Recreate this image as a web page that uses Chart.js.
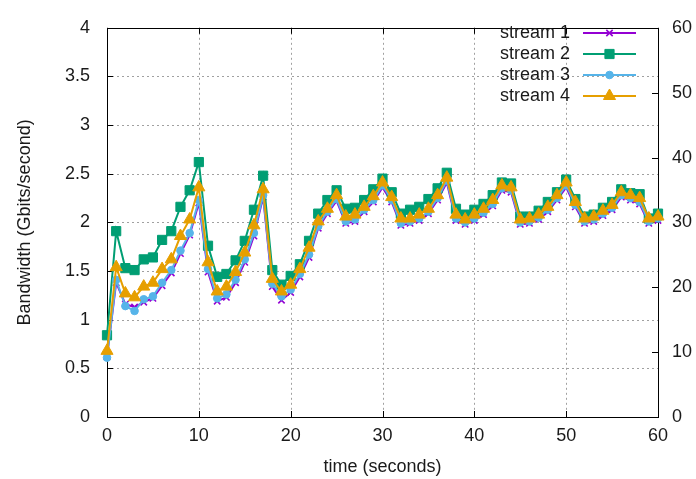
<!DOCTYPE html>
<html><head><meta charset="utf-8">
<script src="https://cdn.jsdelivr.net/npm/chart.js@4"></script>
<style>html,body{margin:0;padding:0;background:#fff}#wrap{width:696px;height:479px}</style>
</head><body><div id="wrap"><canvas id="c" width="696" height="479"></canvas></div>
<script>
const times = [0,1,2,3,4,5,6,7,8,9,10,11,12,13,14,15,16,17,18,19,20,21,22,23,24,25,26,27,28,29,30,31,32,33,34,35,36,37,38,39,40,41,42,43,44,45,46,47,48,49,50,51,52,53,54,55,56,57,58,59,60];
const stream1 = [0.62,1.38,1.16,1.13,1.18,1.22,1.35,1.48,1.68,1.87,2.20,
  1.49,1.19,1.23,1.38,1.59,1.86,2.26,1.34,1.20,1.28,
  1.44,1.64,1.94,2.09,2.22,1.99,2.01,2.11,2.21,2.36,
  2.21,1.97,1.99,2.02,2.09,2.23,2.41,2.02,1.98,2.02,
  2.08,2.17,2.33,2.31,1.98,1.99,2.03,2.11,2.23,2.36,
  2.16,1.99,2.01,2.07,2.13,2.26,2.23,2.19,1.99,2.02];
const stream2 = [0.84,1.91,1.53,1.51,1.62,1.64,1.82,1.91,2.16,2.33,2.62,
  1.76,1.44,1.47,1.61,1.81,2.13,2.48,1.51,1.36,1.45,
  1.57,1.81,2.09,2.23,2.33,2.14,2.15,2.23,2.34,2.45,
  2.31,2.09,2.13,2.16,2.24,2.35,2.51,2.14,2.08,2.13,
  2.19,2.28,2.41,2.40,2.06,2.06,2.12,2.21,2.31,2.44,
  2.24,2.06,2.08,2.15,2.21,2.34,2.30,2.29,2.04,2.09];
const stream3 = [0.61,1.41,1.14,1.09,1.21,1.24,1.38,1.51,1.71,1.89,2.23,
  1.52,1.22,1.26,1.41,1.62,1.89,2.28,1.37,1.24,1.31,
  1.47,1.67,1.96,2.11,2.24,2.01,2.03,2.13,2.23,2.38,
  2.23,1.99,2.01,2.04,2.11,2.25,2.43,2.04,2.00,2.04,
  2.10,2.19,2.35,2.33,2.00,2.01,2.05,2.13,2.25,2.38,
  2.18,2.01,2.03,2.09,2.15,2.28,2.25,2.21,2.01,2.04];
const stream4 = [0.68,1.54,1.27,1.23,1.34,1.38,1.52,1.62,1.86,2.03,2.36,
  1.59,1.29,1.34,1.49,1.69,1.97,2.34,1.42,1.29,1.36,
  1.52,1.74,2.01,2.14,2.28,2.06,2.08,2.16,2.27,2.41,
  2.26,2.04,2.04,2.08,2.14,2.28,2.46,2.08,2.03,2.08,
  2.14,2.23,2.38,2.36,2.03,2.04,2.08,2.16,2.28,2.41,
  2.21,2.04,2.06,2.12,2.18,2.31,2.28,2.25,2.04,2.06];
const seriesNames = ['stream 1','stream 2','stream 3','stream 4'];
const seriesColors = ['#9400d3','#009e73','#56b4e9','#e69f00'];
const seriesMarkers = ['crossRot','rect','circle','triangle'];
const seriesRadius = [4.5,6.5,3.8,7];
const xTicks = [0,10,20,30,40,50,60];
const yTicks = [0,0.5,1,1.5,2,2.5,3,3.5,4];
const y2Ticks = [0,10,20,30,40,50,60];
const xTitle = 'time (seconds)';
const yTitle = 'Bandwidth (Gbits/second)';

const FONT = 'Liberation Sans, Arial, sans-serif';
const FS = 18;
const TEXT = '#1a1a1a';
const seriesValues = [stream1, stream2, stream3, stream4];

const datasets = seriesValues.map((vals, i) => ({
  label: seriesNames[i],
  data: times.map((t, j) => ({x: t, y: vals[j]})),
  borderColor: seriesColors[i],
  backgroundColor: seriesColors[i],
  borderWidth: 2,
  pointStyle: seriesMarkers[i],
  pointRadius: seriesRadius[i],
  pointBorderWidth: i === 0 ? 1.6 : 1,
  pointBorderColor: seriesColors[i],
  pointBackgroundColor: seriesColors[i],
  tension: 0,
  clip: false,
  order: 4 - i
}));

const framePlugin = {
  id: 'frame',
  beforeDatasetsDraw(chart) {
    const {ctx, chartArea: a, scales} = chart;
    ctx.save();
    // dotted grid
    ctx.strokeStyle = '#a0a0a0';
    ctx.lineWidth = 1;
    ctx.setLineDash([2, 3]);
    ctx.beginPath();
    yTicks.forEach(v => {
      if (v === 0 || v === 4) return;
      const y = Math.round(scales.y.getPixelForValue(v)) + 0.5;
      ctx.moveTo(a.left, y); ctx.lineTo(a.right, y);
    });
    xTicks.forEach(v => {
      if (v === 0 || v === 60) return;
      const x = Math.round(scales.x.getPixelForValue(v)) + 0.5;
      ctx.moveTo(x, a.top); ctx.lineTo(x, a.bottom);
    });
    ctx.stroke();
    ctx.setLineDash([]);
    // border
    ctx.strokeStyle = '#000';
    ctx.strokeRect(Math.round(a.left) + 0.5, Math.round(a.top) + 0.5, Math.round(a.right - a.left), Math.round(a.bottom - a.top));
    const tl = 6;
    ctx.beginPath();
    yTicks.forEach(v => {
      const y = Math.round(scales.y.getPixelForValue(v)) + 0.5;
      ctx.moveTo(a.left, y); ctx.lineTo(a.left + tl, y);
    });
    y2Ticks.forEach(v => {
      const y = Math.round(scales.y2.getPixelForValue(v)) + 0.5;
      ctx.moveTo(a.right, y); ctx.lineTo(a.right - tl, y);
    });
    xTicks.forEach(v => {
      const x = Math.round(scales.x.getPixelForValue(v)) + 0.5;
      ctx.moveTo(x, a.bottom); ctx.lineTo(x, a.bottom - tl);
      ctx.moveTo(x, a.top); ctx.lineTo(x, a.top + tl);
    });
    ctx.stroke();
    ctx.restore();
  },
  afterDatasetsDraw(chart) {
    const {ctx} = chart;
    ctx.save();
    ctx.font = FS + 'px ' + FONT;
    ctx.textAlign = 'right';
    ctx.textBaseline = 'middle';
    const textRight = 570, x1 = 583, x2 = 636, xm = 609.5;
    seriesNames.forEach((name, i) => {
      const y = 33 + i * 21;
      ctx.fillStyle = TEXT;
      ctx.fillText(name, textRight, y);
      ctx.strokeStyle = seriesColors[i];
      ctx.lineWidth = 2;
      ctx.beginPath(); ctx.moveTo(x1, y); ctx.lineTo(x2, y); ctx.stroke();
      ctx.fillStyle = seriesColors[i];
      ctx.lineWidth = i === 0 ? 1.6 : 1;
      Chart.helpers.drawPoint(ctx, {
        pointStyle: seriesMarkers[i], radius: seriesRadius[i], rotation: 0,
        borderWidth: i === 0 ? 1.6 : 1
      }, xm, y);
    });
    ctx.restore();
  }
};

const fmt = v => String(v);

new Chart(document.getElementById('c'), {
  type: 'line',
  data: {datasets},
  plugins: [framePlugin],
  options: {
    responsive: false,
    animation: false,
    devicePixelRatio: 1,
    layout: {padding: {top: 18, left: 0, right: 0, bottom: 0}},
    plugins: {legend: {display: false}, tooltip: {enabled: false}},
    scales: {
      x: {
        type: 'linear', position: 'bottom', min: 0, max: 60,
        afterFit(s) { s.height = 62; },
        afterBuildTicks(s) { s.ticks = xTicks.map(v => ({value: v})); },
        ticks: {color: TEXT, font: {family: FONT, size: FS}, padding: 8, maxRotation: 0, callback: fmt},
        grid: {display: false, drawTicks: false},
        border: {display: false},
        title: {display: true, text: xTitle, color: TEXT, font: {family: FONT, size: FS}, padding: {top: 0, bottom: 1}}
      },
      y: {
        type: 'linear', position: 'left', min: 0, max: 4,
        afterFit(s) { s.width = 107; },
        afterBuildTicks(s) { s.ticks = yTicks.map(v => ({value: v})); },
        ticks: {color: TEXT, font: {family: FONT, size: FS}, padding: 17, callback: fmt},
        grid: {display: false, drawTicks: false},
        border: {display: false},
        title: {display: true, text: yTitle, color: TEXT, font: {family: FONT, size: FS}, padding: {top: 14, bottom: 0}}
      },
      y2: {
        type: 'linear', position: 'right', min: 0, max: 60,
        afterFit(s) { s.width = 38; },
        afterBuildTicks(s) { s.ticks = y2Ticks.map(v => ({value: v})); },
        ticks: {color: TEXT, font: {family: FONT, size: FS}, padding: 14, callback: fmt},
        grid: {display: false, drawTicks: false},
        border: {display: false}
      }
    }
  }
});
</script>
</body></html>
